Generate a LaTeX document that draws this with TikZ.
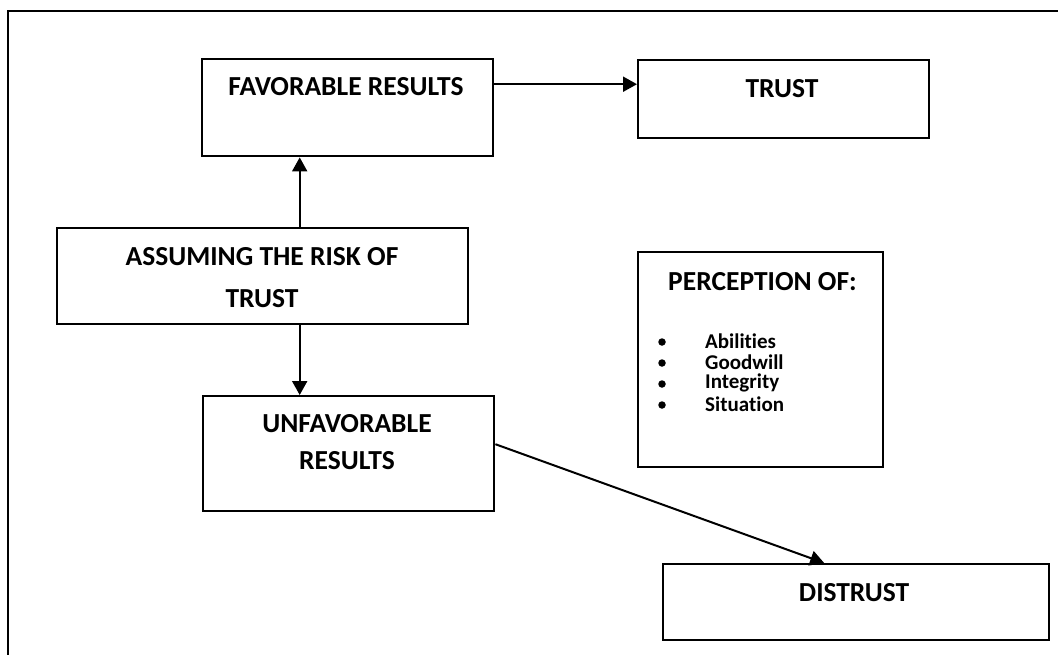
\documentclass[tikz,border=0pt]{standalone}
\usepackage{fontspec}
\setmainfont[Ligatures=NoCommon]{Carlito}
\usetikzlibrary{arrows.meta}

\begin{document}
\begin{tikzpicture}[x=1pt, y=-1pt,
    box/.style={draw, line width=2.4pt, anchor=north west, inner sep=0pt},
    boxtext/.style={font=\fontsize{27.5}{42}\selectfont\bfseries, align=center, inner sep=0pt},
    itemtext/.style={font=\fontsize{21}{22}\selectfont\bfseries, anchor=west, inner sep=0pt},
    bulletdot/.style={circle, fill, inner sep=0pt, minimum size=7.5pt},
    link/.style={line width=2pt, -{Triangle[length=14pt, width=15pt]}}]
    \useasboundingbox (0,0) rectangle (1058,654);
    % outer frame, only its top and left edges fall on the page
    \draw[line width=2.4pt] (1070,11) -- (8,11) -- (8,670);

    % boxes
    \node[box, minimum width=291pt, minimum height=97pt] (fav) at (201,58) {};
    \node[box, minimum width=291pt, minimum height=78pt] (trust) at (637,59) {};
    \node[box, minimum width=411pt, minimum height=96pt] (assume) at (56,227) {};
    \node[box, minimum width=291pt, minimum height=115pt] (unfav) at (202,395) {};
    \node[box, minimum width=245pt, minimum height=215pt] (perc) at (637,251) {};
    \node[box, minimum width=386pt, minimum height=76pt] (distrust) at (662,563) {};

    % box texts
    \node[boxtext] (favtext) at (346,87) {FAVORABLE RESULTS};
    \node[boxtext] (trusttext) at (782,89) {TRUST};
    \node[boxtext] (assumetext) at (262,278) {ASSUMING THE RISK OF\\TRUST};
    \node[boxtext, font=\fontsize{27.5}{37}\selectfont\bfseries] (unfavtext) at (347,442) {UNFAVORABLE\\RESULTS};
    \node[boxtext] (distrusttext) at (854,593) {DISTRUST};
    \node[boxtext, anchor=west] (perctitle) at (668,282) {PERCEPTION OF:};

    % perception list
    \foreach \name [count=\i] in {Abilities, Goodwill, Integrity, Situation} {
        \node[bulletdot] (bul\i) at (662,321+21*\i) {};
        \node[itemtext] (item\i) at (705,320+21*\i) {\name};
    }

    % connectors
    \draw[link] ([xshift=37pt]assume.north) -- ([xshift=37pt]assume.north |- fav.south);
    \draw[link] ([xshift=37pt]assume.south) -- ([xshift=37pt]assume.south |- unfav.north);
    \draw[link] ([yshift=23.5pt]fav.east) -- ([yshift=23.5pt]fav.east -| trust.west);
    \draw[link] ([yshift=9.5pt]unfav.east) -- ([xshift=-32pt]distrust.north);
\end{tikzpicture}
\end{document}
